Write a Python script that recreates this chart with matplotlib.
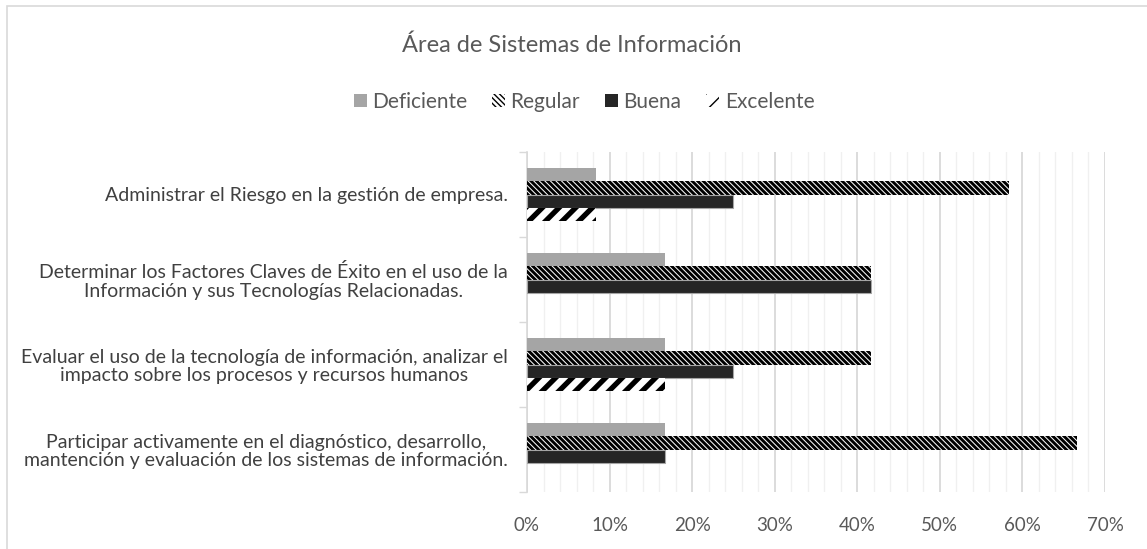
import matplotlib
matplotlib.use("Agg")
import matplotlib.pyplot as plt
import numpy as np
from matplotlib.patches import Rectangle, Patch
from matplotlib.ticker import MultipleLocator, PercentFormatter, FixedLocator

plt.rcParams['font.family'] = ['Lato', 'DejaVu Sans']

categories = [
    "Administrar el Riesgo en la gestión de empresa.",
    "Determinar los Factores Claves de Éxito en el uso de la\nInformación y sus Tecnologías Relacionadas.",
    "Evaluar el uso de la tecnología de información, analizar el\nimpacto sobre los procesos y recursos humanos",
    "Participar activamente en el diagnóstico, desarrollo,\nmantención y evaluación de los sistemas de información.",
]
series = ["Deficiente", "Regular", "Buena", "Excelente"]
deficiente = [1/12, 2/12, 2/12, 2/12]
regular = [7/12, 5/12, 5/12, 8/12]
buena = [3/12, 5/12, 3/12, 2/12]
excelente = [1/12, 0, 2/12, 0]

values = [deficiente, regular, buena, excelente]
styles = [
    dict(color="#A5A5A5", edgecolor="#A5A5A5", hatch=None, lw=0, hlw=1.0),
    dict(color="white", edgecolor="black", hatch="\\" * 6, lw=0, hlw=2.1),
    dict(color="#262626", edgecolor="#A5A5A5", hatch=None, lw=0.8, hlw=1.0),
    dict(color="white", edgecolor="black", hatch="//", lw=0, hlw=3.8),
]

fig = plt.figure(figsize=(11.47, 5.49), dpi=100)
ax = fig.add_axes([527/1147, 1 - 492/549, (1105 - 527)/1147, (492 - 152)/549])

y = np.arange(len(categories))
h = 0.155
handles = []
for i, (name, vals, st) in enumerate(zip(series, values, styles)):
    bars = ax.barh(y + (i - 1.5) * h, vals, height=h, color=st["color"],
                   edgecolor=st["edgecolor"], linewidth=st["lw"], hatch=st["hatch"], zorder=3)
    for b in bars:
        if hasattr(b, "set_hatch_linewidth"):
            b.set_hatch_linewidth(st["hlw"])
    p = Patch(facecolor=st["color"], edgecolor=st["edgecolor"], hatch=st["hatch"], linewidth=0)
    if hasattr(p, "set_hatch_linewidth"):
        p.set_hatch_linewidth(st["hlw"])
    handles.append(p)

ax.set_ylim(len(categories) - 0.5, -0.5)
ax.set_xlim(0, 0.7)
ax.set_yticks(y)
ax.set_yticklabels(categories, fontsize=14, color="#404040", multialignment="center",
                   linespacing=1.1)
ax.yaxis.set_minor_locator(FixedLocator(np.arange(-0.5, len(categories), 1)))
ax.tick_params(axis="y", which="major", length=0, pad=14)
ax.tick_params(axis="y", which="minor", length=6, color="#D9D9D9", width=1)

ax.xaxis.set_major_locator(MultipleLocator(0.1))
ax.xaxis.set_minor_locator(MultipleLocator(0.02))
ax.xaxis.set_major_formatter(PercentFormatter(1.0, decimals=0))
ax.tick_params(axis="x", which="both", length=0, labelsize=13.5, labelcolor="#595959", pad=18)
ax.grid(axis="x", which="major", color="#D9D9D9", linewidth=1.3, zorder=0)
ax.grid(axis="x", which="minor", color="#F0F0F0", linewidth=1.0, zorder=0)

for s in ["top", "right", "bottom"]:
    ax.spines[s].set_visible(False)
ax.spines["left"].set_color("#D9D9D9")
ax.spines["left"].set_linewidth(1.2)

fig.text(572/1147, 1 - 45/549, "Área de Sistemas de Información", ha="center", va="center",
         fontsize=17, color="#595959")
fig.legend(handles, series, loc="center", bbox_to_anchor=(584/1147, 1 - 102/549), ncol=4,
           frameon=False, fontsize=15, labelcolor="#595959", handlelength=0.63,
           handleheight=0.63, handletextpad=0.25, columnspacing=1.2)

fig.patches.append(Rectangle((7/1147, -0.1), 1.2, 1 - 6/549 + 0.1, transform=fig.transFigure,
                             fill=False, edgecolor="#D9D9D9", linewidth=1.2))

fig.savefig("out.png", dpi=100)
